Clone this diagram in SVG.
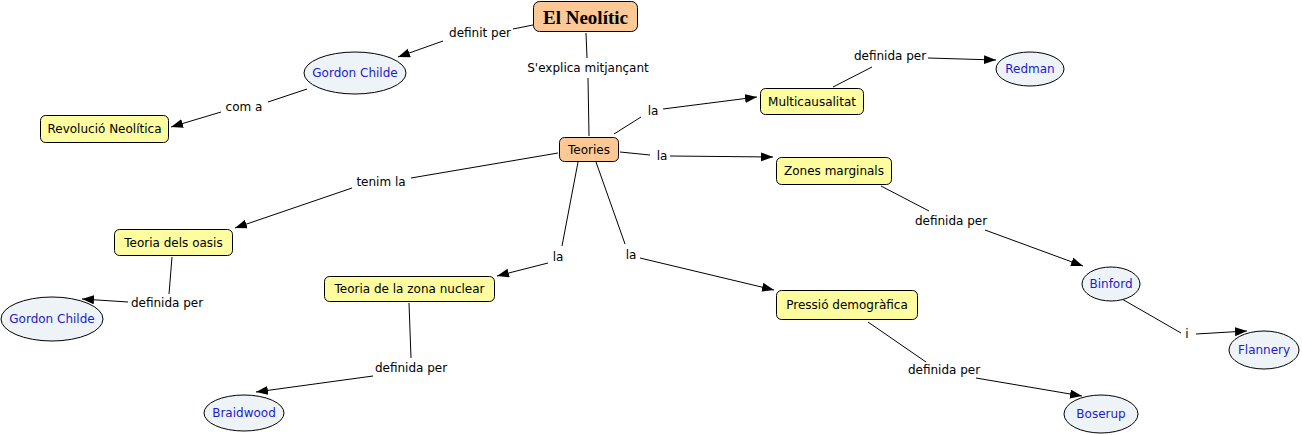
<svg xmlns="http://www.w3.org/2000/svg" width="1302" height="435" viewBox="0 0 1302 435">
<style>
.r{fill:#fdfc9e;stroke:#000;stroke-width:1}
.p{fill:#fcc895;stroke:#000;stroke-width:1}
.e{fill:#edf3f6;stroke:#000;stroke-width:1}
.t{font-family:"DejaVu Sans",Verdana,sans-serif;font-size:12px;fill:#000;text-anchor:middle;dominant-baseline:central}
.b{fill:#1c1ccc}
.h{font-family:"Liberation Serif",Georgia,serif;font-size:19px;font-weight:bold}
.l{font-family:"DejaVu Sans",Verdana,sans-serif;font-size:12px;fill:#000;text-anchor:middle;dominant-baseline:central}
#connectors line{stroke:#000;stroke-width:1}
#connectors line.a{marker-end:url(#arr)}
</style>
<defs>
<marker id="arr" markerUnits="userSpaceOnUse" markerWidth="14" markerHeight="10" refX="12" refY="4.5" orient="auto"><path d="M0,0 L12,4.5 L0,9 z" fill="#000"/></marker>
</defs>
<g id="connectors">
<line x1="533" y1="25" x2="513" y2="29"/>
<line class="a" x1="443" y1="41" x2="398" y2="57"/>
<line x1="586" y1="33" x2="587" y2="58"/>
<line x1="588" y1="78" x2="589" y2="136"/>
<line x1="307" y1="89" x2="268" y2="102"/>
<line class="a" x1="221" y1="112" x2="171" y2="127"/>
<line x1="614" y1="134" x2="641" y2="117"/>
<line class="a" x1="663" y1="109" x2="757" y2="97"/>
<line x1="620" y1="152" x2="650" y2="155"/>
<line class="a" x1="670" y1="156" x2="773" y2="157"/>
<line x1="833" y1="87" x2="872" y2="67"/>
<line class="a" x1="928" y1="58" x2="996" y2="60"/>
<line x1="558" y1="153" x2="411" y2="178"/>
<line class="a" x1="352" y1="188" x2="235" y2="228"/>
<line x1="881" y1="186" x2="929" y2="211"/>
<line class="a" x1="985" y1="230" x2="1083" y2="266"/>
<line x1="578" y1="162" x2="562" y2="246"/>
<line class="a" x1="548" y1="263" x2="497" y2="276"/>
<line x1="596" y1="162" x2="625" y2="244"/>
<line class="a" x1="640" y1="258" x2="774" y2="290"/>
<line x1="172" y1="257" x2="169" y2="294"/>
<line class="a" x1="128" y1="302" x2="82" y2="299"/>
<line x1="409" y1="303" x2="411" y2="358"/>
<line class="a" x1="373" y1="376" x2="256" y2="392"/>
<line x1="868" y1="322" x2="926" y2="362"/>
<line class="a" x1="976" y1="378" x2="1082" y2="396"/>
<line x1="1122" y1="299" x2="1181" y2="333"/>
<line class="a" x1="1196" y1="334" x2="1247" y2="331"/>
</g>
<g id="labels">
<text class="l" x="480" y="33">definit per</text>
<text class="l" x="588" y="68">S'explica mitjançant</text>
<text class="l" x="244" y="107">com a</text>
<text class="l" x="653" y="111">la</text>
<text class="l" x="662" y="156">la</text>
<text class="l" x="890" y="56">definida per</text>
<text class="l" x="381" y="182">tenim la</text>
<text class="l" x="951" y="221">definida per</text>
<text class="l" x="558" y="257">la</text>
<text class="l" x="631" y="255">la</text>
<text class="l" x="167" y="303">definida per</text>
<text class="l" x="411" y="368">definida per</text>
<text class="l" x="944" y="370">definida per</text>
<text class="l" x="1187" y="334">i</text>
</g>
<g id="n-neolitic"><rect class="p" x="533.5" y="1.5" width="104" height="30" rx="6"/><text class="t h" x="585.5" y="17">El Neolític</text></g>
<g id="n-gordon1"><ellipse class="e" cx="355" cy="73" rx="51" ry="21"/><text class="t b" x="355" y="73">Gordon Childe</text></g>
<g id="n-revolucio"><rect class="r" x="40.5" y="115.5" width="128" height="27" rx="5"/><text class="t" x="104.5" y="129">Revolució Neolítica</text></g>
<g id="n-multi"><rect class="r" x="760.5" y="88.5" width="103" height="26" rx="5"/><text class="t" x="812" y="101.5">Multicausalitat</text></g>
<g id="n-redman"><ellipse class="e" cx="1030" cy="69" rx="34" ry="17"/><text class="t b" x="1030" y="69">Redman</text></g>
<g id="n-teories"><rect class="p" x="559.5" y="137.5" width="59" height="24" rx="5"/><text class="t" x="589" y="149.5">Teories</text></g>
<g id="n-zones"><rect class="r" x="776.5" y="157.5" width="115" height="27" rx="5"/><text class="t" x="834" y="171">Zones marginals</text></g>
<g id="n-oasis"><rect class="r" x="114.5" y="229.5" width="118" height="26" rx="5"/><text class="t" x="173.5" y="242.5">Teoria dels oasis</text></g>
<g id="n-nuclear"><rect class="r" x="324.5" y="276.5" width="170" height="25" rx="5"/><text class="t" x="409.5" y="289">Teoria de la zona nuclear</text></g>
<g id="n-pressio"><rect class="r" x="776.5" y="290.5" width="141" height="29" rx="5"/><text class="t" x="847" y="305">Pressió demogràfica</text></g>
<g id="n-gordon2"><ellipse class="e" cx="52" cy="319" rx="51" ry="22"/><text class="t b" x="52" y="319">Gordon Childe</text></g>
<g id="n-braidwood"><ellipse class="e" cx="244" cy="413" rx="40" ry="18"/><text class="t b" x="244" y="413">Braidwood</text></g>
<g id="n-binford"><ellipse class="e" cx="1111" cy="284" rx="29" ry="17"/><text class="t b" x="1111" y="284">Binford</text></g>
<g id="n-flannery"><ellipse class="e" cx="1264" cy="350" rx="35" ry="19"/><text class="t b" x="1264" y="350">Flannery</text></g>
<g id="n-boserup"><ellipse class="e" cx="1101" cy="414" rx="37" ry="19"/><text class="t b" x="1101" y="414">Boserup</text></g>
</svg>
